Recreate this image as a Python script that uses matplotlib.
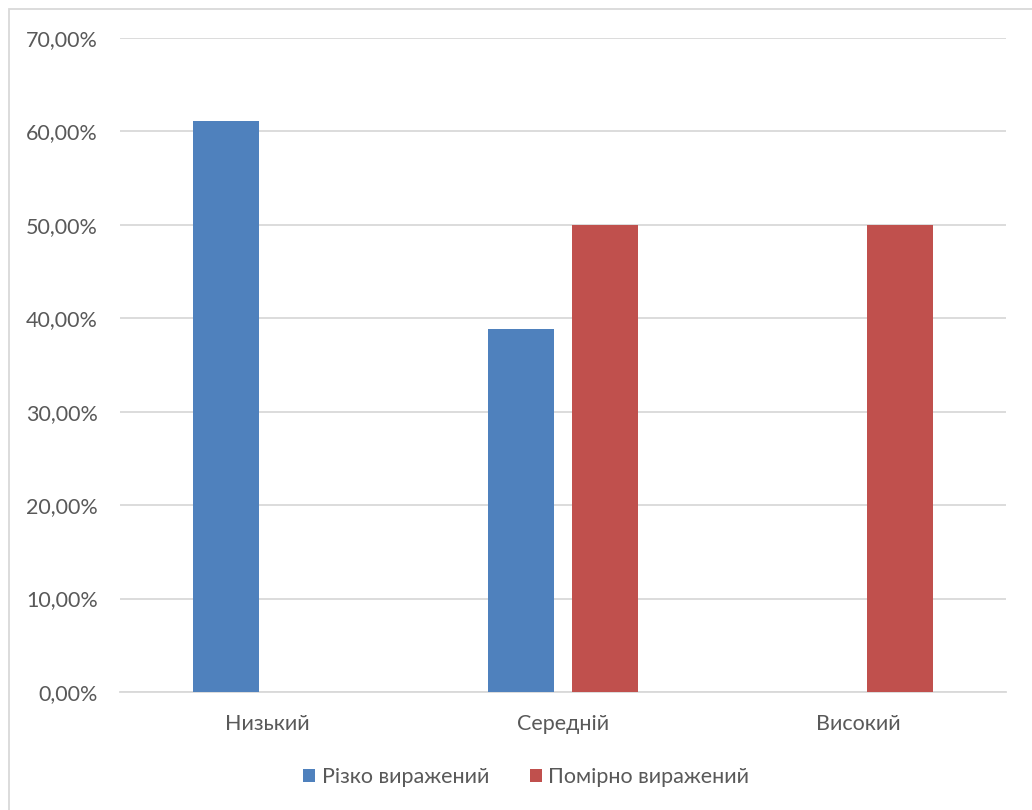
import numpy as np
import matplotlib
matplotlib.use('Agg')
import matplotlib.pyplot as plt
from matplotlib.patches import Rectangle
from matplotlib.ticker import FuncFormatter

categories = ['Низький', 'Середній', 'Високий']
series_names = ['Різко виражений', 'Помірно виражений']
sharp = [61.11, 38.89, 0.0]
moderate = [0.0, 50.0, 50.0]
colors = ['#4F81BD', '#C0504D']

plt.rcParams['font.family'] = ['Lato', 'DejaVu Sans']
text_col = '#595959'
fs = 15.5

fig = plt.figure(figsize=(10.32, 8.10), dpi=100)
ax = fig.add_axes([0.1163, 0.1457, 0.8585, 0.8074])

# chart area border (left and top edges visible)
fig.patches.append(Rectangle((8.5 / 1032, -0.05), 1.2, 801.5 / 810 + 0.05,
                             transform=fig.transFigure, fill=False,
                             edgecolor='#D9D9D9', lw=1.3))

x = np.arange(len(categories))
w = 0.225
off = 0.142
ax.bar(x - off, sharp, w, color=colors[0], label=series_names[0], zorder=3)
ax.bar(x + off, moderate, w, color=colors[1], label=series_names[1], zorder=3)

ax.set_xlim(-0.5, 2.5)
ax.set_ylim(0, 70)
ax.set_yticks(np.arange(0, 71, 10))
ax.yaxis.set_major_formatter(FuncFormatter(lambda v, _: f'{v:.2f}%'.replace('.', ',')))
ax.set_xticks(x)
ax.set_xticklabels(categories)
ax.grid(axis='y', color='#D9D9D9', lw=1.3, zorder=0)
for s in ['top', 'right', 'left']:
    ax.spines[s].set_visible(False)
ax.spines['bottom'].set_color('#D9D9D9')
ax.spines['bottom'].set_linewidth(1.3)
ax.tick_params(length=0, labelsize=fs, colors=text_col)
ax.tick_params(axis='y', pad=16)
ax.tick_params(axis='x', pad=15.5)

leg = fig.legend(loc='center', bbox_to_anchor=(0.51, 1 - 777 / 810), ncol=2,
                 frameon=False, fontsize=fs, handlelength=0.55, handleheight=0.55,
                 handletextpad=0.3, columnspacing=1.9)
for t in leg.get_texts():
    t.set_color(text_col)

fig.savefig('out.png', dpi=100)
